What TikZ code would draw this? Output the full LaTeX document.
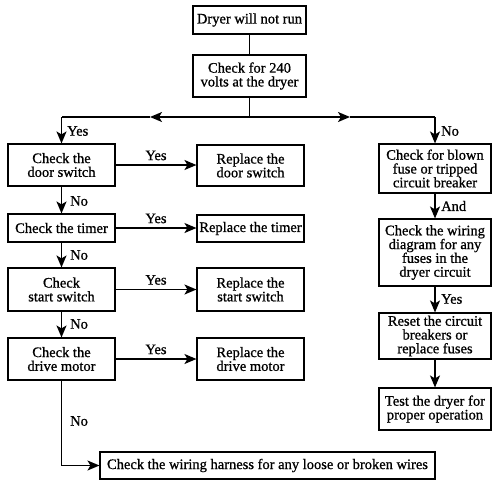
\documentclass[tikz,border=0pt]{standalone}
\usepackage{fontspec}
\setmainfont{Liberation Serif}[BoldFont=Liberation Serif,BoldFeatures={FakeBold=0.9}]
\usetikzlibrary{arrows.meta}
\begin{document}
\begin{tikzpicture}[x=1pt,y=-1pt,
  box/.style={draw,line width=1.1pt,align=center,inner sep=0pt,font=\fontsize{14.5}{13.8}\selectfont\bfseries},
  conn/.style={line width=1.5pt},
  arr/.style={conn,-{Stealth[length=12pt,width=10pt,inset=3pt]}},
  lab/.style={font=\fontsize{14.5}{13.8}\selectfont\bfseries,inner sep=0pt}]
\useasboundingbox (0,0) rectangle (500,482);
\node[box,minimum width=113pt,minimum height=28pt] (n1) at (249.5,20) {Dryer will not run};
\node[box,minimum width=113pt,minimum height=42pt] (n2) at (249.5,76) {Check for 240\\volts at the dryer};
\node[box,minimum width=107pt,minimum height=42pt] (door) at (61.5,165) {Check the\\door switch};
\node[box,minimum width=107pt,minimum height=41pt] (rdoor) at (250.5,165.5) {Replace the\\door switch};
\node[box,minimum width=107pt,minimum height=28pt] (timer) at (61.5,228) {Check the timer};
\node[box,minimum width=107pt,minimum height=27pt] (rtimer) at (250.5,228.5) {Replace the timer};
\node[box,minimum width=107pt,minimum height=43pt] (start) at (61.5,289.5) {Check\\start switch};
\node[box,minimum width=107pt,minimum height=43pt] (rstart) at (250.5,289.5) {Replace the\\start switch};
\node[box,minimum width=107pt,minimum height=42pt] (drive) at (61.5,359) {Check the\\drive motor};
\node[box,minimum width=107pt,minimum height=42pt] (rdrive) at (250.5,359) {Replace the\\drive motor};
\node[box,minimum width=335pt,minimum height=27pt] (harness) at (267.5,465.5) {Check the wiring harness for any loose or broken wires};
\node[box,minimum width=112pt,minimum height=49pt] (fuse) at (435,168.5) {Check for blown\\fuse or tripped\\circuit breaker};
\node[box,minimum width=112pt,minimum height=67pt] (wiring) at (435,252.5) {Check the wiring\\diagram for any\\fuses in the\\dryer circuit};
\node[box,minimum width=112pt,minimum height=46pt] (reset) at (435,336) {Reset the circuit\\breakers or\\replace fuses};
\node[box,minimum width=112pt,minimum height=42pt] (test) at (435,409) {Test the dryer for\\proper operation};
% split
\coordinate (split) at (249.5,117);
\coordinate (lmid) at (150,117);
\coordinate (rmid) at (350,117);
\coordinate (lc) at (61.5,117);
\coordinate (rc) at (435,117);
\coordinate (hc) at (61.5,465.5);
\draw[conn] (n1) -- (n2);
\draw[conn] (n2.south) -- (split);
\draw[arr] (split) -- (lmid);
\draw[conn] (lmid) -- (lc);
\draw[arr] (split) -- (rmid);
\draw[conn] (rmid) -- (rc);
\draw[arr] (lc) -- (door.north);
\draw[arr] (rc) -- (fuse.north);
\node[lab,anchor=west] at (67,131) {Yes};
\node[lab,anchor=west] at (441,131) {No};
% left column
\draw[arr] (door) -- (timer);
\node[lab,anchor=west] at (70,201) {No};
\draw[arr] (timer) -- (start);
\node[lab,anchor=west] at (70,255) {No};
\draw[arr] (start) -- (drive);
\node[lab,anchor=west] at (70,324) {No};
\draw[conn] (drive.south) -- (hc);
\draw[arr] (hc) -- (harness.west);
\node[lab,anchor=west] at (70,421) {No};
% yes arrows
\draw[arr] (door) -- node[lab,above=4pt] {Yes} (rdoor.west|-door);
\draw[arr] (timer) -- node[lab,above=4pt] {Yes} (rtimer.west|-timer);
\draw[arr] (start) -- node[lab,above=4pt] {Yes} (rstart.west|-start);
\draw[arr] (drive) -- node[lab,above=4pt] {Yes} (rdrive.west|-drive);
% right column
\draw[arr] (fuse) -- (wiring);
\node[lab,anchor=west] at (441,206) {And};
\draw[arr] (wiring) -- (reset);
\node[lab,anchor=west] at (441,299) {Yes};
\draw[arr] (reset) -- (test);
\end{tikzpicture}
\end{document}
